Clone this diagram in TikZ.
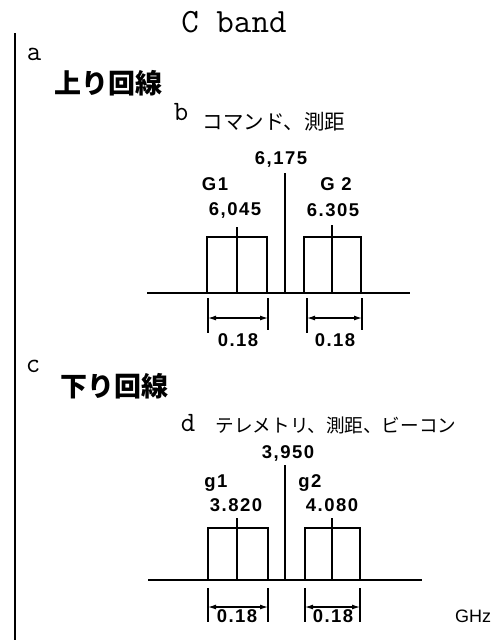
\documentclass[tikz,border=0pt]{standalone}
\usepackage{fontspec}
\usepackage{tikz}
\usetikzlibrary{arrows.meta}
\setmainfont{Liberation Sans}
\newfontfamily\jpfnt{Noto Sans CJK JP}
\newfontfamily\numfnt[LetterSpace=8]{Liberation Sans}

\begin{document}
\begin{tikzpicture}[x=1pt,y=-1pt,
    letter/.style={font=\ttfamily\fontsize{28}{30}\selectfont, inner sep=0pt},
    head/.style={font=\jpfnt\bfseries\fontsize{27}{29}\selectfont, inner sep=0pt},
    sub/.style={font=\jpfnt\fontsize{18.6}{20}\selectfont, inner sep=0pt},
    num/.style={font=\numfnt\bfseries\fontsize{18.5}{20}\selectfont, inner sep=0pt},
    band/.style={line width=1.7pt},
    axis/.style={line width=1.5pt},
    dim/.style={line width=1.2pt, {Latex[length=8pt,width=5pt]}-{Latex[length=8pt,width=5pt]}},
    tick/.style={line width=1.2pt}]
        \useasboundingbox (0,0) rectangle (497,640);
        \draw [line width=2pt] (15,33) -- (15,640);
        \node [inner sep=0pt] (title) at (234,22) {\ttfamily\fontsize{34}{36}\selectfont C band};
        % uplink
        \node [letter] (la) at (34,54) {a};
        \node [head] (lup) at (108,83) {上り回線};
        \node [letter] (lb) at (181,112) {b};
        \node [sub, font=\jpfnt\fontsize{20.5}{22}\selectfont] (lcmd) at (274,122) {コマンド、測距};
        \node [num] (f6175) at (281,159) {6,175};
        \node [num] (G1) at (215,184) {G1};
        \node [num] (f6045) at (235,210) {6,045};
        \node [num] (G2) at (336,184) {G 2};
        \node [num] (f6305) at (333,210) {6.305};
        \draw [axis] (147,293) -- (410,293);
        \draw [band] (207,293) -- (207,237) -- (267,237) -- (267,293);
        \draw [band] (304,293) -- (304,237) -- (361,237) -- (361,293);
        \draw [band] (237,227) -- (237,293);
        \draw [band] (332,225) -- (332,293);
        \draw [band] (285,173) -- (285,293);
        \draw [tick] (208,298) -- (208,333);
        \draw [tick] (268,298) -- (268,330);
        \draw [tick] (307,298) -- (307,333);
        \draw [tick] (362,298) -- (362,330);
        \draw [dim] (208,318) -- (268,318);
        \draw [dim] (307,318) -- (362,318);
        \node [num] (w1) at (238,340) {0.18};
        \node [num] (w2) at (335,340) {0.18};
        % downlink
        \node [letter] (lc) at (33,366) {c};
        \node [head] (ldown) at (114,386) {下り回線};
        \node [letter] (ld) at (188,423) {d};
        \node [sub] (ltlm) at (336,425) {テレメトリ、測距、ビーコン};
        \node [num] (f3950) at (288,453) {3,950};
        \node [num] (g1) at (216,483) {g1};
        \node [num] (f3820) at (236,505) {3.820};
        \node [num] (g2) at (310,483) {g2};
        \node [num] (f4080) at (332,505) {4.080};
        \draw [axis] (148,580) -- (422,580);
        \draw [band] (208,580) -- (208,528) -- (268,528) -- (268,580);
        \draw [band] (305,580) -- (305,528) -- (360,528) -- (360,580);
        \draw [band] (237,518) -- (237,580);
        \draw [band] (332,518) -- (332,580);
        \draw [band] (285,465) -- (285,580);
        \draw [tick] (208,588) -- (208,622);
        \draw [tick] (268,588) -- (268,622);
        \draw [tick] (305,588) -- (305,622);
        \draw [tick] (360,588) -- (360,622);
        \draw [dim] (208,607) -- (268,607);
        \draw [dim] (305,607) -- (360,607);
        \node [num] (w3) at (237,616) {0.18};
        \node [num] (w4) at (333,616) {0.18};
        \node [font=\fontsize{18}{20}\selectfont, inner sep=0pt] (ghz) at (473,616) {GHz};
      \end{tikzpicture}
\end{document}
